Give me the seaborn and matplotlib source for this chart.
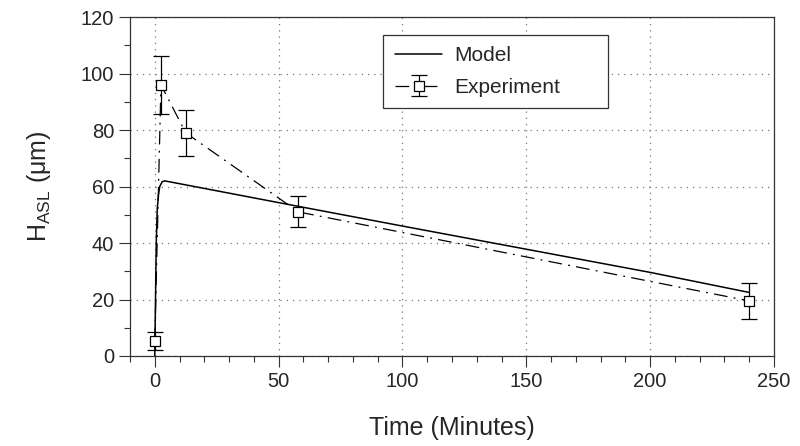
import matplotlib
matplotlib.use("Agg")
import matplotlib.pyplot as plt
import seaborn as sns
import pandas as pd
from matplotlib.ticker import MultipleLocator

# Model curve
model_t = [0, 0.3, 0.6, 1.0, 1.5, 2.0, 3.0, 4.0, 10, 50, 100, 150, 200, 240]
model_h = [0, 20, 40, 52, 57, 60, 61.7, 62, 61, 54.3, 46, 37.8, 29.6, 22.5]

# Experiment points with error bars
exp_t = [0, 2.5, 12.5, 58, 240]
exp_h = [5.2, 96, 79, 51, 19.5]
exp_err = [3.2, 10.3, 8.2, 5.5, 6.5]

sns.set_style("ticks")
plt.rcParams['font.family'] = ['Liberation Sans', 'DejaVu Sans']

fig = plt.figure(figsize=(8, 4.46), dpi=100)
ax = fig.add_axes([0.1625, 0.2018, 0.805, 0.760])

model_df = pd.DataFrame({"t": model_t, "h": model_h})
sns.lineplot(data=model_df, x="t", y="h", ax=ax, color="black", lw=1.1,
             label="Model", estimator=None, sort=False)

ax.errorbar(exp_t, exp_h, yerr=exp_err, color="black", lw=0.9,
            ls=(0, (11, 5, 1.5, 5)), marker="s", ms=7, mfc="white", mec="black",
            mew=0.9, capsize=6, elinewidth=0.9, capthick=0.9, label="Experiment")

ax.set_xlim(-10, 250)
ax.set_ylim(0, 120)
ax.xaxis.set_major_locator(MultipleLocator(50))
ax.xaxis.set_minor_locator(MultipleLocator(10))
ax.yaxis.set_major_locator(MultipleLocator(20))
ax.yaxis.set_minor_locator(MultipleLocator(10))
ax.tick_params(which="major", direction="out", length=8, width=0.8, labelsize=14.5, color="#333333")
ax.tick_params(which="minor", direction="out", length=4, width=0.8, color="#333333")
ax.grid(True, which="major", ls=(0, (1, 4)), color="#777777", lw=0.9)
for s in ax.spines.values():
    s.set_linewidth(0.9)
    s.set_color("#333333")

ax.set_xlabel("Time (Minutes)", fontsize=18, labelpad=18)
ax.set_ylabel(r"H$_{\mathregular{ASL}}$ (μm)", fontsize=18, labelpad=20)

# legend box stretched to the width seen in the reference
leg = ax.legend(loc="upper left", bbox_to_anchor=(0.393, 0.747, 0.349, 0.2),
                mode="expand", fontsize=15,
                frameon=True, fancybox=False, edgecolor="#333333",
                handlelength=2.3, handletextpad=0.55, borderpad=0.55,
                labelspacing=0.6, borderaxespad=0)
leg.get_frame().set_linewidth(0.9)
leg.get_frame().set_alpha(1)

fig.savefig("out.png", dpi=100)
